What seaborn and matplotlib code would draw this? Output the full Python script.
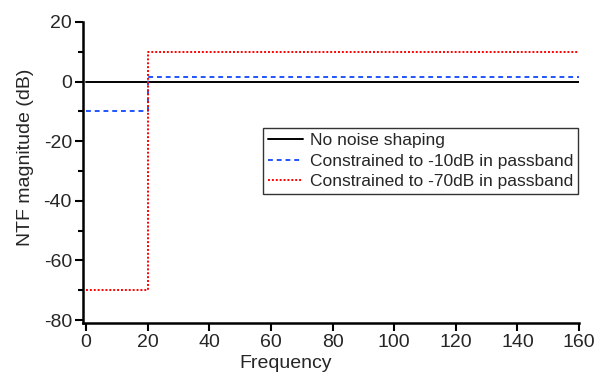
import numpy as np
import pandas as pd
import matplotlib
matplotlib.use("Agg")
import matplotlib.pyplot as plt
import seaborn as sns
from matplotlib.ticker import MultipleLocator

# Data
freq = [0, 20, 20, 160]
no_shaping = [0, 0, 0, 0]
constrained_10 = [-10, -10, 1.5, 1.5]
constrained_70 = [-70, -70, 10, 10]
labels = ["No noise shaping", "Constrained to -10dB in passband", "Constrained to -70dB in passband"]
xticks = [0, 20, 40, 60, 80, 100, 120, 140, 160]
yticks = [-80, -60, -40, -20, 0, 20]

sns.set_theme(style="ticks")
plt.rcParams['font.family'] = ['Liberation Sans', 'DejaVu Sans']
plt.rcParams['axes.unicode_minus'] = False

rows = []
for lab, vals in zip(labels, [no_shaping, constrained_10, constrained_70]):
    for i, (f, v) in enumerate(zip(freq, vals)):
        rows.append({"Frequency": f, "dB": v, "series": lab, "order": i})
df = pd.DataFrame(rows)

fig = plt.figure(figsize=(6.09, 3.72), dpi=100)
L, R, T, B = 83, 579, 22, 323
ax = fig.add_axes([L/609, 1 - B/372, (R - L)/609, (B - T)/372])

styles = {
    labels[0]: dict(color="black", linestyle="-", linewidth=1.4),
    labels[1]: dict(color="#2255ff", linestyle=(0, (2.5, 2)), linewidth=1.4),
    labels[2]: dict(color="#ff0000", linestyle=(0, (1, 1)), linewidth=1.4),
}
for lab in labels:
    sub = df[df.series == lab]
    sns.lineplot(data=sub, x="Frequency", y="dB", sort=False, estimator=None,
                 ax=ax, label=lab, **styles[lab])

ax.set_xlim(-1, 160)
ax.set_ylim(-81, 20)
ax.set_xticks(xticks)
ax.set_yticks(yticks)
ax.yaxis.set_minor_locator(MultipleLocator(10))
ax.tick_params(axis='both', which='major', labelsize=14, length=5.5, width=1.5, direction='out', pad=2.5, color='black')
ax.tick_params(axis='y', which='minor', length=3.5, width=1.5, color='black')
for s in ['left', 'bottom']:
    ax.spines[s].set_linewidth(1.8)
    ax.spines[s].set_color('black')
sns.despine(ax=ax)
ax.set_xlabel("Frequency", fontsize=14)
ax.xaxis.set_label_coords((286 - L)/(R - L), -(368 - B)/(B - T), transform=ax.transAxes)
ax.xaxis.label.set_va('baseline')
ax.set_ylabel("NTF magnitude (dB)", fontsize=14)
ax.yaxis.set_label_coords(-(L - 26)/(R - L), 1 - (157 - T)/(B - T), transform=ax.transAxes)
ax.yaxis.label.set_va('center')

leg = ax.legend(loc='upper left', bbox_to_anchor=((263 - L)/(R - L), 1 - (128 - T)/(B - T)),
                fontsize=12.5, frameon=True, fancybox=False, edgecolor='black',
                handlelength=2.0, handletextpad=0.4, borderpad=0.3, labelspacing=0.3,
                borderaxespad=0)
leg.get_frame().set_linewidth(1.0)

fig.savefig("out.png", dpi=100)
